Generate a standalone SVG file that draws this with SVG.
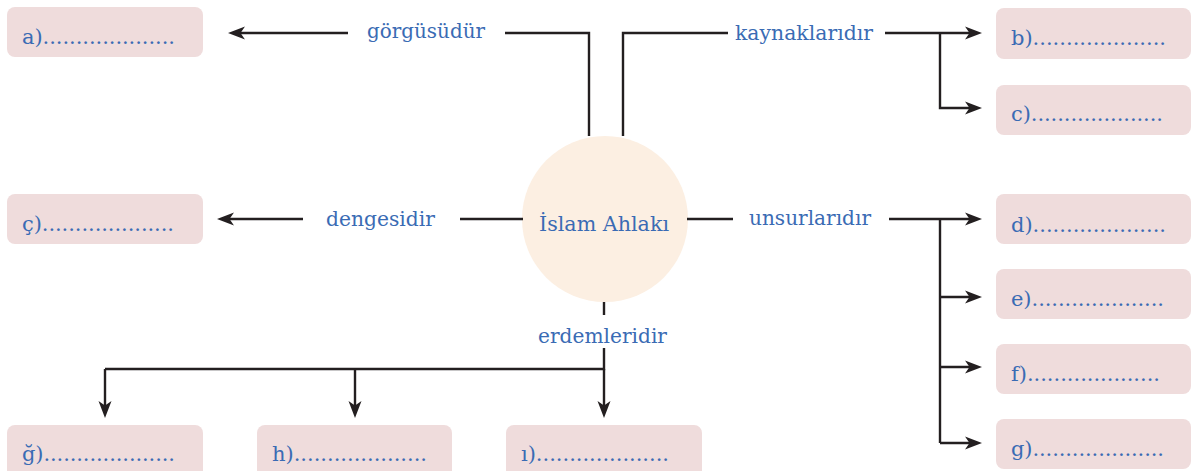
<svg xmlns="http://www.w3.org/2000/svg" width="1198" height="471" viewBox="0 0 1198 471">
<style>
.box{fill:#efdcdc}
.t{font-family:"DejaVu Serif","Liberation Serif",serif;font-size:21px;fill:#3a6bb4}
.c{fill:none;stroke:#231f20;stroke-width:2.4}
.a{fill:none;stroke:#231f20;stroke-width:2.4;marker-end:url(#ah)}
</style>
<defs>
<marker id="ah" markerUnits="userSpaceOnUse" markerWidth="20" markerHeight="16" viewBox="0 -8 20 16" refX="9" refY="0" orient="auto">
<path d="M0,-6.5 L17,0 L0,6.5 L4.5,0 Z" fill="#231f20"/>
</marker>
</defs>
<rect width="1198" height="471" fill="#ffffff"/>
<g id="center">
<circle cx="605" cy="219" r="83" fill="#fcefe2"/>
<text class="t" x="604" y="231" text-anchor="middle" textLength="130" lengthAdjust="spacingAndGlyphs">İslam Ahlakı</text>
</g>
<g id="connectors">
<path class="c" d="M589,136 V33 H505"/>
<path class="a" d="M348,33 H236"/>
<path class="c" d="M623,136 V33 H728"/>
<path class="a" d="M885,33 H974"/>
<path class="a" d="M940,33 V108 H974"/>
<path class="c" d="M523,219 H460"/>
<path class="a" d="M303,219 H225"/>
<path class="c" d="M687,219 H733"/>
<path class="a" d="M889,219 H974"/>
<path class="c" d="M940,219 V443"/>
<path class="a" d="M940,297 H974"/>
<path class="a" d="M940,367 H974"/>
<path class="a" d="M940,443 H974"/>
<path class="c" d="M604,302 V315"/>
<path class="c" d="M604,348 V369 H105"/>
<path class="a" d="M105,369 V410"/>
<path class="a" d="M355,369 V410"/>
<path class="a" d="M604,369 V410"/>
</g>
<g id="labels">
<text class="t" x="367" y="38" textLength="118" lengthAdjust="spacingAndGlyphs">görgüsüdür</text>
<text class="t" x="735" y="40" textLength="138" lengthAdjust="spacingAndGlyphs">kaynaklarıdır</text>
<text class="t" x="326" y="226" textLength="109" lengthAdjust="spacingAndGlyphs">dengesidir</text>
<text class="t" x="749" y="225" textLength="122" lengthAdjust="spacingAndGlyphs">unsurlarıdır</text>
<text class="t" x="538" y="343" textLength="129" lengthAdjust="spacingAndGlyphs">erdemleridir</text>
</g>
<g id="box-a"><rect class="box" x="7" y="7" width="196" height="50" rx="8"/><text class="t" x="22" y="44" textLength="153" lengthAdjust="spacing">a)....................</text></g>
<g id="box-b"><rect class="box" x="996" y="8" width="195" height="51" rx="8"/><text class="t" x="1011" y="45" textLength="155" lengthAdjust="spacing">b)....................</text></g>
<g id="box-c"><rect class="box" x="996" y="85" width="195" height="50" rx="8"/><text class="t" x="1011" y="121" textLength="152" lengthAdjust="spacing">c)....................</text></g>
<g id="box-cc"><rect class="box" x="7" y="194" width="196" height="50" rx="8"/><text class="t" x="22" y="231" textLength="152" lengthAdjust="spacing">ç)....................</text></g>
<g id="box-d"><rect class="box" x="996" y="194" width="195" height="50" rx="8"/><text class="t" x="1011" y="232" textLength="155" lengthAdjust="spacing">d)....................</text></g>
<g id="box-e"><rect class="box" x="996" y="269" width="195" height="50" rx="8"/><text class="t" x="1011" y="306" textLength="153" lengthAdjust="spacing">e)....................</text></g>
<g id="box-f"><rect class="box" x="996" y="344" width="195" height="50" rx="8"/><text class="t" x="1011" y="381" textLength="149" lengthAdjust="spacing">f)....................</text></g>
<g id="box-g"><rect class="box" x="996" y="419" width="195" height="50" rx="8"/><text class="t" x="1011" y="456" textLength="153" lengthAdjust="spacing">g)....................</text></g>
<g id="box-gg"><rect class="box" x="7" y="425" width="196" height="56" rx="8"/><text class="t" x="22" y="461" textLength="153" lengthAdjust="spacing">ğ)....................</text></g>
<g id="box-h"><rect class="box" x="257" y="425" width="195" height="56" rx="8"/><text class="t" x="272" y="461" textLength="155" lengthAdjust="spacing">h)....................</text></g>
<g id="box-i"><rect class="box" x="506" y="425" width="196" height="56" rx="8"/><text class="t" x="521" y="461" textLength="148" lengthAdjust="spacing">ı)....................</text></g>
</svg>
